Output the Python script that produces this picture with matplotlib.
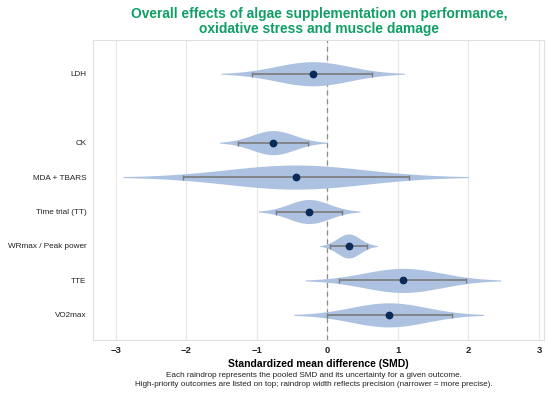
import numpy as np
import matplotlib
matplotlib.use('Agg')
import matplotlib.pyplot as plt

plt.rcParams['font.family'] = ['Liberation Sans', 'DejaVu Sans']

# rows from bottom to top, '' marks the empty slot between CK and LDH
rows = ['VO2max', 'TTE', 'WRmax / Peak power', 'Time trial (TT)', 'MDA + TBARS', 'CK', '', 'LDH']
smd = {'VO2max': 0.87, 'TTE': 1.07, 'WRmax / Peak power': 0.30, 'Time trial (TT)': -0.26,
       'MDA + TBARS': -0.45, 'CK': -0.77, 'LDH': -0.21}
ci_low = {'VO2max': 0.00, 'TTE': 0.16, 'WRmax / Peak power': 0.03, 'Time trial (TT)': -0.73,
          'MDA + TBARS': -2.05, 'CK': -1.27, 'LDH': -1.07}
ci_high = {'VO2max': 1.76, 'TTE': 1.97, 'WRmax / Peak power': 0.56, 'Time trial (TT)': 0.21,
           'MDA + TBARS': 1.15, 'CK': -0.28, 'LDH': 0.63}
xticks = [-3, -2, -1, 0, 1, 2, 3]

fill_col = '#adc2e1'
dot_col = '#0b2a5a'
ci_col = '#7a7a7a'
half_h = 0.35  # max half-height of each raindrop

fig = plt.figure(figsize=(5.5, 3.94), dpi=100)
ax = fig.add_axes([0.1697, 0.137, 0.8193, 0.7615])

ypos, ylabels = [], []
for i, name in enumerate(rows):
    if not name:
        continue
    m = smd[name]
    lo, hi = ci_low[name], ci_high[name]
    se = (hi - lo) / 3.92
    xs = np.linspace(m - 3 * se, m + 3 * se, 300)
    # drop shape: normal curve, slightly widened so the body reaches the CI ends
    w = half_h * np.exp(-0.5 * ((xs - m) / (1.2 * se)) ** 2)
    ax.fill_between(xs, i - w, i + w, color=fill_col, lw=0, zorder=2)
    ax.errorbar([m], [i], xerr=[[m - lo], [hi - m]], fmt='none', ecolor=ci_col,
                elinewidth=1.2, capsize=1.8, capthick=1.0, zorder=3)
    ax.plot([m], [i], 'o', color=dot_col, ms=4.6, zorder=4)
    ypos.append(i)
    ylabels.append(name)

ax.axvline(0, color='#8c8c8c', lw=0.9, ls=(0, (4, 3)), zorder=1)

ax.set_xlim(-3.32, 3.07)
ax.set_ylim(-0.73, 7.98)
ax.set_xticks(xticks)
ax.set_xticklabels([str(t).replace('-', '\u2212') for t in xticks], fontweight='bold', fontsize=6.8)
ax.set_yticks(ypos)
ax.set_yticklabels(ylabels, fontsize=5.9)
ax.tick_params(axis='both', length=0, colors='#222222')
ax.tick_params(axis='y', pad=5)
ax.tick_params(axis='x', pad=4)
ax.xaxis.grid(True, color='#e6e6e6', lw=0.8, zorder=0)
ax.set_axisbelow(True)
for s in ax.spines.values():
    s.set_color('#e0e0e0')
    s.set_linewidth(0.8)

ax.set_xlabel('Standardized mean difference (SMD)', fontsize=7.45, fontweight='bold', labelpad=3)

fig.text(0.58, 0.946, 'Overall effects of algae supplementation on performance,\noxidative stress and muscle damage',
         ha='center', va='center', fontsize=9.9, fontweight='bold', color='#0f9f64', linespacing=1.1)
fig.text(0.570, 0.036, 'Each raindrop represents the pooled SMD and its uncertainty for a given outcome.\n'
         'High-priority outcomes are listed on top; raindrop width reflects precision (narrower = more precise).',
         ha='center', va='center', fontsize=5.9, color='#222222', linespacing=1.35)

fig.savefig('out.png', dpi=100)
